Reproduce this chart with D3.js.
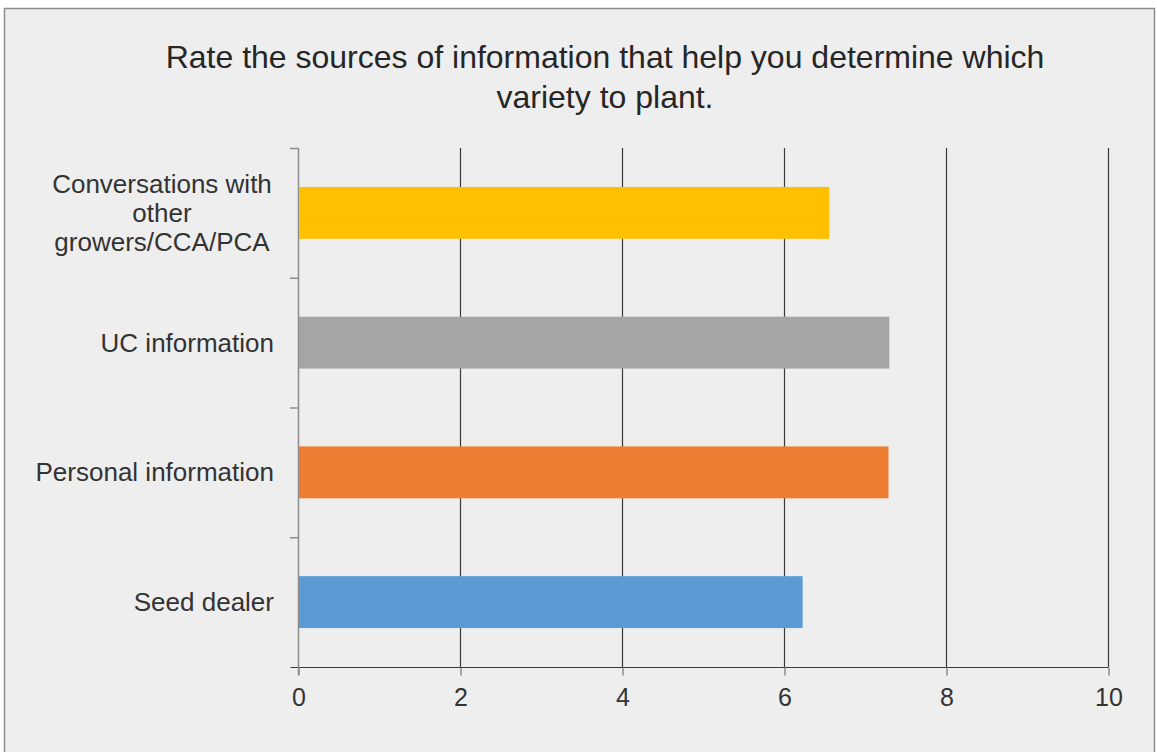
<!DOCTYPE html>
<head>
<meta charset="utf-8">
<title>Sources of information</title>
<script src="https://d3js.org/d3.v7.min.js"></script>
<style>
  body { margin: 0; background: #fff; }
  text { font-family: "Liberation Sans", Arial, sans-serif; }
</style>
</head>
<body>
<div id="container"></div>
<script>

const categories = ["Conversations with other growers/CCA/PCA", "UC information", "Personal information", "Seed dealer"]
const labelLines = [["Conversations with", "other", "growers/CCA/PCA"], ["UC information"], ["Personal information"], ["Seed dealer"]]
const values = [6.56, 7.30, 7.29, 6.23]
const colors = ["#FFC000", "#A5A5A5", "#ED7D31", "#5B9BD5"]
const xTicks = [0, 2, 4, 6, 8, 10]
const titleLines = ["Rate the sources of information that help you determine which", "variety to plant."]

function chart() {
  const width = 1157, height = 752
  const margin = {top: 148, right: 48, bottom: 85, left: 298}

  const svg = d3.select("div#container").append("svg")
      .attr("width", width).attr("height", height)

  // chart frame
  svg.append("rect")
     .attr("x", 4.5).attr("y", 8.5).attr("width", 1150).attr("height", 750)
     .attr("fill", "#eeeeee").attr("stroke", "#8c8c8c").attr("stroke-width", 1.5)

  const xScale = d3.scaleLinear().domain([0, 10])
    .range([margin.left, width - margin.right - 1])
  const yScale = d3.scaleBand().domain(categories)
    .range([margin.top, height - margin.bottom]).paddingInner(0.6).paddingOuter(0.3)

  const plotBottom = height - margin.bottom

  // vertical gridlines
  svg.append("g").selectAll("line").data(xTicks.slice(1)).join("line")
     .attr("x1", d => xScale(d) + 0.5).attr("x2", d => xScale(d) + 0.5)
     .attr("y1", margin.top).attr("y2", plotBottom)
     .attr("stroke", "#3a3a3a").attr("stroke-width", 1.2)

  // x axis
  const xAxis = svg.append("g")
    .attr("transform", `translate(0.5,${plotBottom + 0.5})`)
    .call(d3.axisBottom(xScale).tickValues(xTicks).tickSize(8).tickPadding(13).tickSizeOuter(0))
  xAxis.select(".domain").attr("stroke", "#3a3a3a").attr("d", `M${margin.left - 8},0H${xScale(10)}`)
  xAxis.selectAll(".tick line").attr("stroke", "#8c8c8c").attr("stroke-width", 1.5)
  xAxis.selectAll(".tick text").attr("font-size", 25).attr("fill", "#333")
    .attr("font-family", "Liberation Sans, Arial, sans-serif")

  // y axis with ticks on band boundaries
  const bounds = categories.map(c => yScale(c) - yScale.step() * yScale.paddingInner() / 2)
  bounds.push(plotBottom)
  const yAx = svg.append("g")
  yAx.append("line")
     .attr("x1", margin.left + 0.5).attr("x2", margin.left + 0.5)
     .attr("y1", margin.top).attr("y2", plotBottom + 8)
     .attr("stroke", "#8c8c8c").attr("stroke-width", 1.5)
  yAx.selectAll("line.tk").data(bounds.slice(0, 4)).join("line").attr("class", "tk")
     .attr("x1", margin.left - 8).attr("x2", margin.left)
     .attr("y1", d => d + 0.5).attr("y2", d => d + 0.5)
     .attr("stroke", "#8c8c8c").attr("stroke-width", 1.5)

  // bars
  svg.append("g").selectAll("rect").data(categories).join("rect")
     .attr("x", xScale(0) + 1)
     .attr("y", d => yScale(d))
     .attr("width", (d, i) => xScale(values[i]) - xScale(0) - 1)
     .attr("height", yScale.bandwidth())
     .attr("fill", (d, i) => colors[i])

  // category labels
  const lab = svg.append("g").selectAll("text").data(categories).join("text")
     .attr("text-anchor", "middle").attr("font-size", 26).attr("fill", "#333")
     .attr("y", d => yScale(d) + yScale.bandwidth() / 2)
  lab.each(function(d, i) {
    const lines = labelLines[i]
    const t = d3.select(this)
    const cx = lines.length > 1 ? 162 : null
    lines.forEach((l, j) => {
      t.append("tspan")
       .attr("x", cx || 274).attr("text-anchor", cx ? "middle" : "end")
       .attr("dy", j === 0 ? (-(lines.length - 1) / 2 * 29 + 9) : 29)
       .text(l)
    })
  })

  // title
  svg.append("text").attr("text-anchor", "middle").attr("font-size", 32).attr("fill", "#262626")
    .selectAll("tspan").data(titleLines).join("tspan")
    .attr("x", 605).attr("y", (d, i) => 68 + i * 40).text(d => d)
}

chart()
</script>
</body>
